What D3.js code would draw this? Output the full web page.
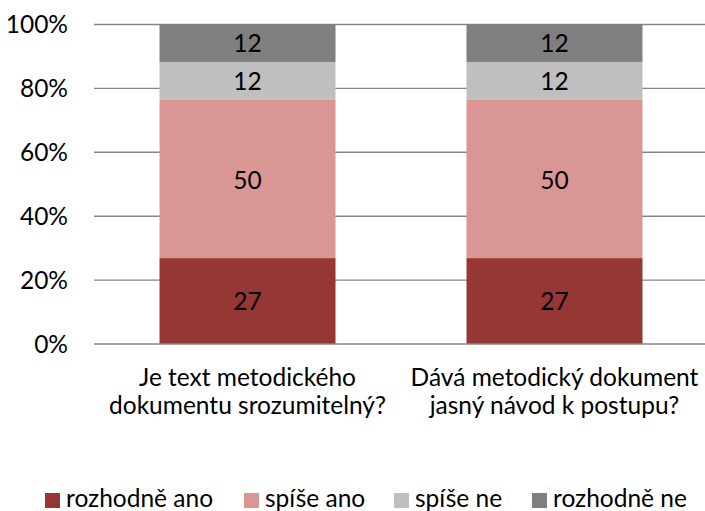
<!DOCTYPE html>
<html>
<head>
<meta charset="utf-8">
<script src="https://cdn.jsdelivr.net/npm/d3@7"></script>
<style>
  html, body { margin: 0; padding: 0; background: #fff; }
  svg { display: block; }
  text { font-family: Lato, "Open Sans", sans-serif; fill: #000; }
</style>
</head>
<body>
<div id="chart"></div>
<script>
// ---- data ----
const categories = ["q1", "q2"];
const categoryLabels = [
  ["Je text metodického", "dokumentu srozumitelný?"],
  ["Dává metodický dokument", "jasný návod k postupu?"]
];
const seriesNames = ["rozhodně ano", "spíše ano", "spíše ne", "rozhodně ne"];
const rozhodneAno = [27, 27];
const spiseAno = [50, 50];
const spiseNe = [12, 12];
const rozhodneNe = [12, 12];
const seriesColors = ["#953735", "#D99694", "#BFBFBF", "#7F7F7F"];
const yTicks = [0, 0.2, 0.4, 0.6, 0.8, 1.0];

// ---- layout ----
const W = 705, H = 511;
const plotLeft = 94, plotRight = 708, plotTop = 24, plotBottom = 343.5;
const fontSize = 24.5;
const ff = "Lato, 'Open Sans', sans-serif";

const svg = d3.select("#chart").append("svg").attr("width", W).attr("height", H);

const rows = categories.map((c, i) => ({
  cat: c,
  [seriesNames[0]]: rozhodneAno[i],
  [seriesNames[1]]: spiseAno[i],
  [seriesNames[2]]: spiseNe[i],
  [seriesNames[3]]: rozhodneNe[i]
}));

const stack = d3.stack().keys(seriesNames).offset(d3.stackOffsetExpand);
const stacked = stack(rows);

const x = d3.scaleBand().domain(categories).range([plotLeft, plotRight])
  .paddingInner(0.4267).paddingOuter(0.2134);
const y = d3.scaleLinear().domain([0, 1]).range([plotBottom, plotTop]);
const color = d3.scaleOrdinal().domain(seriesNames).range(seriesColors);

// gridlines + tick labels
const yAxis = d3.axisLeft(y).tickValues(yTicks).tickFormat(d3.format(".0%"))
  .tickSize(-(W - plotLeft)).tickPadding(26);
const gy = svg.append("g").attr("transform", `translate(${plotLeft},0)`).call(yAxis);
gy.select(".domain").remove();
gy.selectAll(".tick line").attr("stroke", "#878787").attr("stroke-width", 1.4);
gy.selectAll(".tick text").attr("font-size", fontSize).attr("fill", "#000")
  .style("font-family", ff).attr("dy", "0.35em");

// bars
const layers = svg.append("g").selectAll("g").data(stacked).join("g")
  .attr("fill", d => color(d.key));
layers.selectAll("rect").data(d => d).join("rect")
  .attr("x", d => x(d.data.cat))
  .attr("width", x.bandwidth())
  .attr("y", d => y(d[1]))
  .attr("height", d => y(d[0]) - y(d[1]));

// data labels
const labels = svg.append("g");
stacked.forEach(layer => {
  layer.forEach(d => {
    labels.append("text")
      .attr("x", x(d.data.cat) + x.bandwidth() / 2)
      .attr("y", (y(d[0]) + y(d[1])) / 2)
      .attr("text-anchor", "middle")
      .attr("dominant-baseline", "central")
      .attr("font-size", fontSize)
      .text(d.data[layer.key]);
  });
});

// category labels
categories.forEach((c, i) => {
  const t = svg.append("text")
    .attr("text-anchor", "middle")
    .attr("font-size", fontSize);
  categoryLabels[i].forEach((line, j) => {
    t.append("tspan")
      .attr("x", x(c) + x.bandwidth() / 2)
      .attr("y", 386 + j * 28)
      .text(line);
  });
});

// legend
const legendX = [45, 244, 394, 532];
const lg = svg.append("g");
seriesNames.forEach((s, i) => {
  lg.append("rect").attr("x", legendX[i]).attr("y", 493).attr("width", 15).attr("height", 15)
    .attr("fill", color(s));
  lg.append("text").attr("x", legendX[i] + 21).attr("y", 507)
    .attr("font-size", fontSize).text(s);
});
</script>
</body>
</html>
